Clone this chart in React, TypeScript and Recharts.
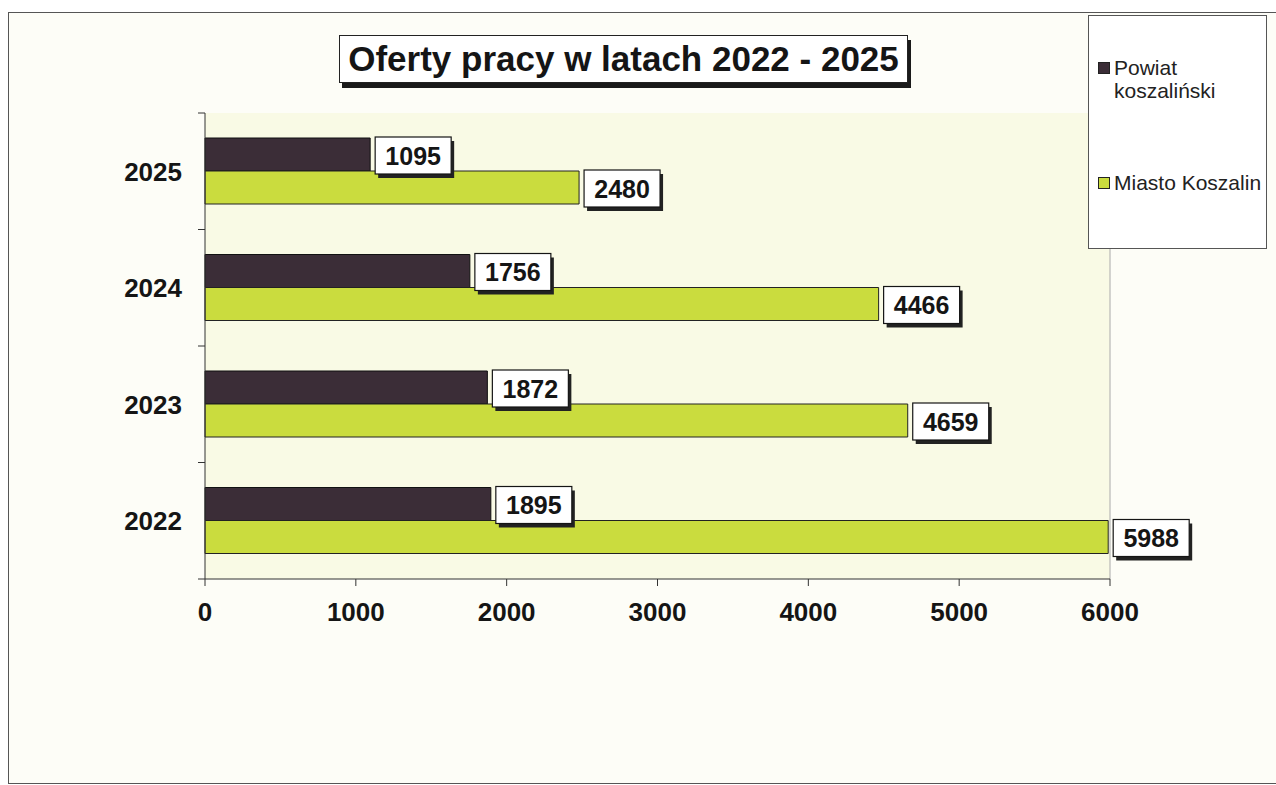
import {
  Bar,
  BarChart,
  CartesianGrid,
  LabelList,
  Legend,
  ReferenceLine,
  XAxis,
  YAxis,
} from "recharts";

const years = ["2025", "2024", "2023", "2022"];
const powiat = [1095, 1756, 1872, 1895];
const miasto = [2480, 4466, 4659, 5988];
const valueTicks = [0, 1000, 2000, 3000, 4000, 5000, 6000];

const data = years.map((year, i) => ({ year, powiat: powiat[i], miasto: miasto[i] }));

const DARK = "#3b2d37";
const GREEN = "#cadc3e";
const INK = "#151515";
const FONT = "'Liberation Sans', Arial, sans-serif";

const W = 1276;
const H = 785;
const PLOT_LEFT = 205;
const PLOT_RIGHT = 1110;
const PLOT_TOP = 113;
const PLOT_BOTTOM = 579;
const Y_AXIS_W = 100;
const X_AXIS_H = 60;
const BAND = (PLOT_BOTTOM - PLOT_TOP) / years.length;

function ValueBox(props: any) {
  const { x, y, width, height, value } = props;
  const bw = 76;
  const bh = 37;
  const bx = x + width + 5;
  const by = y + height / 2 - bh / 2 + 1;
  return (
    <g>
      <rect x={bx + 3} y={by + 4} width={bw} height={bh} fill="#222" />
      <rect x={bx} y={by} width={bw} height={bh} fill="#fff" stroke={INK} strokeWidth={1.2} />
      <text
        x={bx + bw / 2}
        y={by + bh / 2}
        dy="0.36em"
        textAnchor="middle"
        fontFamily={FONT}
        fontWeight={700}
        fontSize={25}
        fill={INK}
      >
        {value}
      </text>
    </g>
  );
}

// category label + tick marks on the band boundaries (Excel style)
function YearTick(props: any) {
  const { x, y, payload, index } = props;
  const last = index === years.length - 1;
  return (
    <g>
      <line x1={PLOT_LEFT - 7} x2={PLOT_LEFT} y1={y - BAND / 2} y2={y - BAND / 2} stroke="#333" />
      {last && <line x1={PLOT_LEFT - 7} x2={PLOT_LEFT} y1={y + BAND / 2} y2={y + BAND / 2} stroke="#333" />}
      <text
        x={x}
        y={y}
        dy="0.36em"
        textAnchor="end"
        fontFamily={FONT}
        fontWeight={700}
        fontSize={26}
        fill={INK}
      >
        {payload.value}
      </text>
    </g>
  );
}

function LegendBox() {
  const item = (color: string, label: React.ReactNode, top: number) => (
    <div style={{ position: "absolute", left: 9, top, display: "flex", alignItems: "flex-start" }}>
      <span
        style={{
          display: "inline-block",
          width: 10,
          height: 10,
          background: color,
          border: "1px solid #222",
          marginTop: 6,
          marginRight: 4,
        }}
      />
      <span style={{ fontFamily: FONT, fontSize: 21, lineHeight: "23px", color: "#222" }}>{label}</span>
    </div>
  );
  return (
    <div
      style={{
        position: "relative",
        width: 179,
        height: 234,
        background: "#fff",
        border: "1px solid #555",
        boxSizing: "border-box",
      }}
    >
      {item(DARK, <>Powiat<br />koszaliński</>, 40)}
      {item(GREEN, "Miasto Koszalin", 155)}
    </div>
  );
}

export default function App() {
  return (
    <div style={{ position: "absolute", left: 0, top: 0, width: W, height: H, background: "#fff" }}>
      <div
        style={{
          position: "absolute",
          left: 8,
          top: 12,
          width: W,
          height: 770,
          background: "#fdfdf7",
          borderTop: "1px solid #555",
          borderLeft: "1px solid #555",
          borderBottom: "1px solid #555",
        }}
      />
      <div
        style={{
          position: "absolute",
          left: 339,
          top: 35,
          width: 567,
          height: 46,
          background: "#fff",
          border: "1px solid #222",
          boxShadow: "3px 5px 0 #1a1a1a",
          fontFamily: FONT,
          fontWeight: 700,
          fontSize: 35,
          lineHeight: "46px",
          textAlign: "center",
          color: INK,
          zIndex: 2,
        }}
      >
        Oferty pracy w latach 2022 - 2025
      </div>
      <div style={{ position: "absolute", left: 0, top: 0 }}>
        <BarChart
          width={W}
          height={H}
          data={data}
          layout="vertical"
          barGap={0}
          barSize={33}
          margin={{
            top: PLOT_TOP,
            right: W - PLOT_RIGHT,
            left: PLOT_LEFT - Y_AXIS_W,
            bottom: H - PLOT_BOTTOM - X_AXIS_H,
          }}
        >
          <CartesianGrid horizontal={false} vertical={false} fill="#f9fae5" />
          <XAxis
            type="number"
            domain={[0, 6000]}
            ticks={valueTicks}
            interval={0}
            height={X_AXIS_H}
            tickSize={7}
            tickMargin={17}
            axisLine={{ stroke: "#333" }}
            tickLine={{ stroke: "#333" }}
            tick={{ fontSize: 26, fontWeight: 700, fill: INK, fontFamily: FONT }}
          />
          <XAxis
            xAxisId="top"
            orientation="top"
            type="number"
            domain={[0, 6000]}
            height={0}
            tick={false}
            tickLine={false}
            axisLine={{ stroke: "#aaa" }}
          />
          <YAxis
            type="category"
            dataKey="year"
            width={Y_AXIS_W}
            interval={0}
            axisLine={{ stroke: "#333" }}
            tickLine={false}
            tickSize={0}
            tickMargin={23}
            tick={<YearTick />}
          />
          <ReferenceLine x={6000} stroke="#aaa" />
          <Legend
            layout="vertical"
            align="center"
            verticalAlign="middle"
            wrapperStyle={{ left: 1088, top: 15, width: 179, height: 234 }}
            content={() => <LegendBox />}
          />
          <Bar dataKey="powiat" name="Powiat koszaliński" fill={DARK} stroke="#111" strokeWidth={1} isAnimationActive={false}>
            <LabelList dataKey="powiat" content={<ValueBox />} />
          </Bar>
          <Bar dataKey="miasto" name="Miasto Koszalin" fill={GREEN} stroke="#222" strokeWidth={1} isAnimationActive={false}>
            <LabelList dataKey="miasto" content={<ValueBox />} />
          </Bar>
        </BarChart>
      </div>
    </div>
  );
}
